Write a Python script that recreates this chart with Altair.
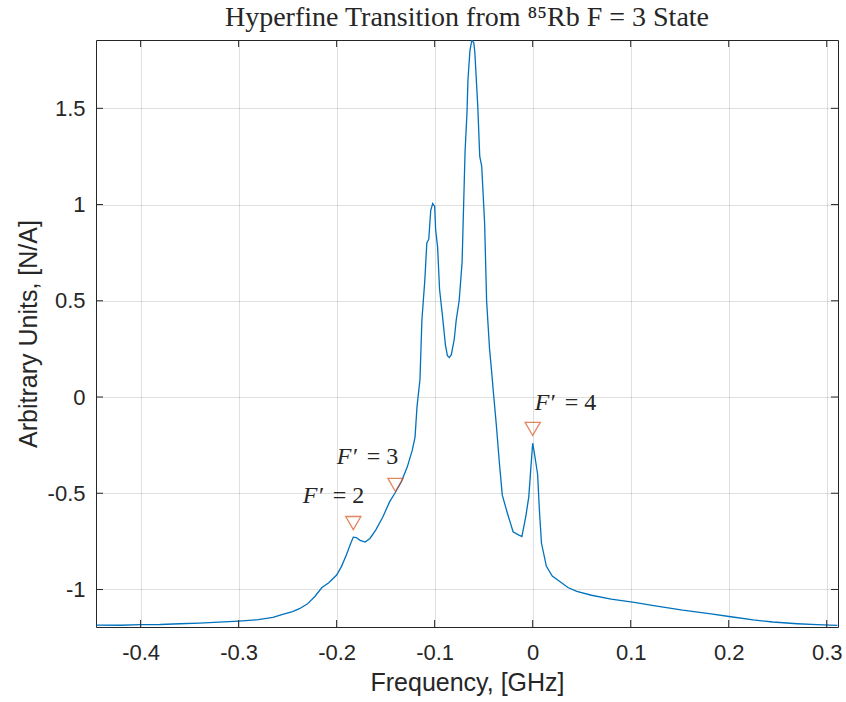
import altair as alt
import pandas as pd

# ---- data ----
freq = [-0.445, -0.420, -0.400, -0.380, -0.360, -0.340, -0.320, -0.300, -0.280, -0.265,
        -0.255, -0.245, -0.238, -0.230, -0.222, -0.215, -0.208, -0.200, -0.195, -0.190,
        -0.186, -0.183, -0.180, -0.176, -0.171, -0.166, -0.160, -0.153, -0.146, -0.140,
        -0.134, -0.128, -0.123, -0.120, -0.118, -0.115, -0.113, -0.110, -0.108, -0.106,
        -0.104, -0.102, -0.100, -0.099, -0.097, -0.095, -0.092, -0.089, -0.087, -0.085,
        -0.083, -0.080, -0.078, -0.075, -0.072, -0.069, -0.067, -0.066, -0.064, -0.062,
        -0.060, -0.059, -0.056, -0.054, -0.052, -0.049, -0.047, -0.044, -0.042, -0.040,
        -0.037, -0.034, -0.031, -0.026, -0.020, -0.015, -0.011, -0.007, -0.004, -0.002,
        0.000, 0.002, 0.005, 0.007, 0.009, 0.014, 0.020, 0.028, 0.036, 0.045,
        0.060, 0.080, 0.102, 0.125, 0.153, 0.180, 0.204, 0.225, 0.245, 0.270,
        0.290, 0.311]
signal = [-1.185, -1.186, -1.183, -1.182, -1.178, -1.175, -1.170, -1.164, -1.157, -1.145,
          -1.130, -1.115, -1.100, -1.076, -1.035, -0.990, -0.965, -0.925, -0.880, -0.820,
          -0.765, -0.728, -0.730, -0.745, -0.754, -0.735, -0.690, -0.625, -0.545, -0.495,
          -0.440, -0.364, -0.280, -0.208, -0.050, 0.090, 0.400, 0.610, 0.800, 0.820,
          0.970, 1.005, 0.990, 0.870, 0.780, 0.560, 0.420, 0.270, 0.215, 0.205,
          0.220, 0.300, 0.400, 0.500, 0.700, 1.270, 1.480, 1.650, 1.800, 1.855,
          1.840, 1.790, 1.510, 1.250, 1.200, 0.900, 0.500, 0.250, 0.140, 0.020,
          -0.150, -0.340, -0.510, -0.600, -0.700, -0.715, -0.725, -0.620, -0.520, -0.380,
          -0.240, -0.300, -0.400, -0.600, -0.760, -0.880, -0.930, -0.960, -0.990, -1.010,
          -1.030, -1.050, -1.066, -1.085, -1.107, -1.125, -1.143, -1.158, -1.169, -1.178,
          -1.183, -1.187]

marker_freq = [-0.183, -0.140, 0.0]
marker_val = [-0.655, -0.457, -0.166]
label_freq = [-0.2345, -0.1998, 0.002]
label_val = [-0.515, -0.312, -0.031]
label_state = ["F\u2032", "F\u2032", "F\u2032"]
label_num = ["= 2", "= 3", "= 4"]

x_ticks = [-0.4, -0.3, -0.2, -0.1, 0.0, 0.1, 0.2, 0.3]
y_ticks = [-1.0, -0.5, 0.0, 0.5, 1.0, 1.5]

TITLE = "Hyperfine Transition from \u2078\u2075Rb F = 3 State"
X_TITLE = "Frequency, [GHz]"
Y_TITLE = "Arbitrary Units, [N/A]"

# ---- chart ----
W, H = 742, 587
INK = "#262626"
xs = alt.Scale(domain=[-0.4455, 0.3115], nice=False, zero=False)
ys = alt.Scale(domain=[-1.195, 1.855], nice=False, zero=False)

curve_df = pd.DataFrame({"freq": freq, "signal": signal})
mark_df = pd.DataFrame({"freq": marker_freq, "val": marker_val})
lab_df = pd.DataFrame({"freq": label_freq, "val": label_val,
                       "state": label_state, "num": label_num})
xt_df = pd.DataFrame({"t": x_ticks})
yt_df = pd.DataFrame({"t": y_ticks})

minus_fix = "replace(datum.label, '\u2212', '-')"

axis_style = dict(
    grid=True, ticks=False, domain=False,
    labelFont="Liberation Sans", labelFontSize=22, labelColor=INK,
    titleFont="Liberation Sans", titleFontSize=25, titleColor=INK,
    titleFontWeight="normal",
    gridColor=INK, gridOpacity=0.15, gridWidth=1,
)
x_axis = alt.Axis(values=x_ticks, format=".1~f", labelExpr=minus_fix, title=X_TITLE,
                  labelPadding=15, titlePadding=7, **axis_style)
y_axis = alt.Axis(values=y_ticks, format=".1~f", labelExpr=minus_fix, title=Y_TITLE,
                  labelPadding=11, titlePadding=6, **axis_style)


def X(field):
    return alt.X(field, type="quantitative", scale=xs, axis=x_axis)


def Y(field):
    return alt.Y(field, type="quantitative", scale=ys, axis=y_axis)


line = alt.Chart(curve_df).mark_line(color="#0072BD", strokeWidth=1.3, clip=True).encode(
    x=X("freq"), y=Y("signal"), order="freq:Q",
)

markers = alt.Chart(mark_df).mark_point(
    shape="triangle-down", filled=False, color="#D95319", size=230, strokeWidth=1.3
).encode(x=X("freq"), y=Y("val"))

lab_state = alt.Chart(lab_df).mark_text(
    font="Liberation Serif", fontStyle="italic", fontSize=24, color=INK,
    align="left", baseline="middle"
).encode(x=X("freq"), y=Y("val"), text="state:N")

lab_num = alt.Chart(lab_df).mark_text(
    font="Liberation Serif", fontSize=24, color=INK,
    align="left", baseline="middle", dx=30
).encode(x=X("freq"), y=Y("val"), text="num:N")

tick_style = dict(color=INK, strokeWidth=1)
xt_bot = alt.Chart(xt_df).mark_rule(**tick_style).encode(
    x=X("t"), y=alt.value(H), y2=alt.value(H - 7))
xt_top = alt.Chart(xt_df).mark_rule(**tick_style).encode(
    x=X("t"), y=alt.value(0), y2=alt.value(7))
yt_left = alt.Chart(yt_df).mark_rule(**tick_style).encode(
    y=Y("t"), x=alt.value(0), x2=alt.value(7))
yt_right = alt.Chart(yt_df).mark_rule(**tick_style).encode(
    y=Y("t"), x=alt.value(W - 7), x2=alt.value(W))

chart = alt.layer(
    line, markers, lab_state, lab_num, xt_bot, xt_top, yt_left, yt_right
).properties(
    width=W, height=H,
    title=alt.TitleParams(TITLE, font="Liberation Serif", fontSize=28,
                          fontWeight="normal", color=INK, anchor="middle", offset=8),
    autosize=alt.AutoSizeParams(type="none"),
    padding={"left": 96, "top": 40, "right": 8, "bottom": 75},
    background="white",
).configure_view(
    stroke=INK, strokeWidth=1
)

chart.save("out.html", embed_options={"renderer": "svg", "actions": False})
